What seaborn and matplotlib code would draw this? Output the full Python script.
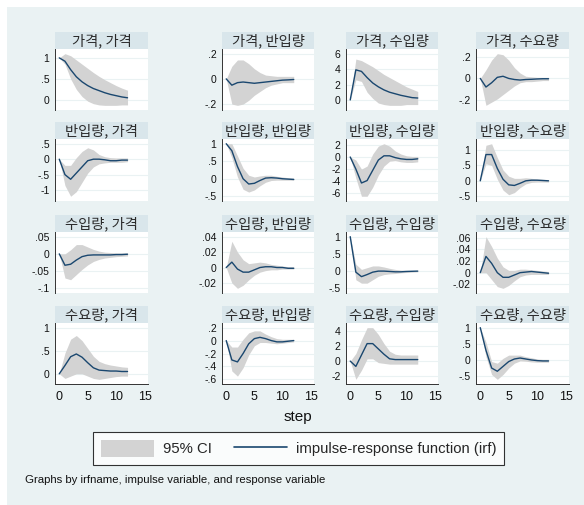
import numpy as np
import pandas as pd
import matplotlib
matplotlib.use("Agg")
import matplotlib.pyplot as plt
from matplotlib.patches import Rectangle, Patch
from matplotlib.lines import Line2D
import matplotlib.ticker as mticker
import seaborn as sns

sns.set_theme(style="white")
plt.rcParams['font.family'] = ['Liberation Sans', 'DejaVu Sans']

# ---------------- data ----------------
variables = ["가격", "반입량", "수입량", "수요량"]
steps = list(range(13))

# (impulse, response) -> irf, lower, upper
irf_11 = [1, 0.92, 0.72, 0.55, 0.43, 0.34, 0.27, 0.22, 0.17, 0.13, 0.10, 0.07, 0.05]
lo_11 = [1, 0.85, 0.5, 0.25, 0.08, -0.03, -0.09, -0.12, -0.13, -0.13, -0.13, -0.12, -0.12]
hi_11 = [1, 1.1, 1.05, 0.95, 0.85, 0.75, 0.65, 0.56, 0.48, 0.41, 0.34, 0.28, 0.23]

irf_12 = [0, -0.05, -0.03, -0.025, -0.03, -0.035, -0.03, -0.025, -0.02, -0.015, -0.01, -0.008, -0.005]
lo_12 = [0, -0.2, -0.21, -0.2, -0.17, -0.13, -0.1, -0.07, -0.05, -0.04, -0.03, -0.03, -0.03]
hi_12 = [0, 0.1, 0.15, 0.15, 0.12, 0.08, 0.05, 0.03, 0.025, 0.02, 0.02, 0.02, 0.02]

irf_13 = [0, 3.9, 3.7, 2.9, 2.2, 1.7, 1.3, 1.0, 0.8, 0.6, 0.45, 0.3, 0.25]
lo_13 = [0, 2.6, 2.4, 1.0, 0.2, -0.4, -0.6, -0.7, -0.7, -0.7, -0.6, -0.6, -0.6]
hi_13 = [0, 5.3, 5.1, 4.7, 4.3, 3.8, 3.3, 2.9, 2.5, 2.1, 1.7, 1.4, 1.1]

irf_14 = [0, -0.08, -0.04, 0.01, 0.02, 0.0, -0.01, -0.015, -0.01, -0.008, -0.005, -0.003, -0.003]
lo_14 = [0, -0.25, -0.22, -0.19, -0.15, -0.11, -0.07, -0.04, -0.03, -0.03, -0.025, -0.02, -0.02]
hi_14 = [0, 0.08, 0.17, 0.23, 0.22, 0.17, 0.1, 0.05, 0.02, 0.015, 0.01, 0.01, 0.01]

irf_21 = [0, -0.5, -0.65, -0.45, -0.25, -0.05, 0.0, 0.0, -0.02, -0.05, -0.05, -0.03, -0.03]
lo_21 = [0, -0.85, -1.2, -1.05, -0.75, -0.45, -0.25, -0.15, -0.12, -0.1, -0.1, -0.1, -0.08]
hi_21 = [0, -0.2, -0.2, 0.05, 0.25, 0.37, 0.3, 0.15, 0.08, 0.05, 0.04, 0.04, 0.04]

irf_22 = [1, 0.8, 0.35, 0.0, -0.15, -0.13, -0.05, 0.02, 0.03, 0.02, 0.0, -0.01, -0.02]
lo_22 = [1, 0.6, 0.05, -0.3, -0.38, -0.32, -0.2, -0.1, -0.05, -0.04, -0.04, -0.04, -0.04]
hi_22 = [1, 1.0, 0.65, 0.3, 0.1, 0.05, 0.08, 0.1, 0.1, 0.07, 0.05, 0.03, 0.02]

irf_23 = [0, -2.0, -4.3, -3.9, -2.2, -0.5, 0.2, 0.2, -0.1, -0.3, -0.4, -0.4, -0.3]
lo_23 = [0, -3.5, -6.5, -6.5, -5.0, -3.0, -1.5, -0.7, -0.6, -0.8, -0.9, -0.9, -0.8]
hi_23 = [0, -0.5, -2.0, -1.5, 0.5, 1.8, 2.2, 1.8, 1.0, 0.5, 0.2, 0.1, 0.1]

irf_24 = [0, 0.85, 0.85, 0.4, 0.05, -0.13, -0.15, -0.08, 0.0, 0.02, 0.02, 0.01, 0.0]
lo_24 = [0, 0.55, 0.5, 0.05, -0.3, -0.45, -0.38, -0.22, -0.1, -0.05, -0.04, -0.04, -0.04]
hi_24 = [0, 1.15, 1.2, 0.75, 0.35, 0.15, 0.08, 0.08, 0.1, 0.08, 0.06, 0.05, 0.04]

irf_31 = [0, -0.033, -0.03, -0.018, -0.008, -0.004, -0.003, -0.003, -0.003, -0.003, -0.002, -0.002, -0.001]
lo_31 = [0, -0.07, -0.075, -0.06, -0.045, -0.032, -0.022, -0.016, -0.012, -0.01, -0.008, -0.007, -0.006]
hi_31 = [0, 0.0, 0.012, 0.027, 0.027, 0.02, 0.013, 0.008, 0.005, 0.004, 0.003, 0.003, 0.003]

irf_32 = [0, 0.007, -0.002, -0.006, -0.006, -0.003, 0.0, 0.001, 0.001, 0.0, 0.0, -0.001, -0.001]
lo_32 = [0, -0.02, -0.027, -0.023, -0.016, -0.01, -0.006, -0.004, -0.003, -0.003, -0.002, -0.002, -0.002]
hi_32 = [0, 0.034, 0.02, 0.01, 0.005, 0.006, 0.007, 0.006, 0.004, 0.003, 0.002, 0.001, 0.001]

irf_33 = [1, -0.03, -0.16, -0.1, -0.03, 0.0, 0.0, -0.01, -0.02, -0.02, -0.01, -0.005, 0.0]
lo_33 = [1, -0.25, -0.35, -0.35, -0.25, -0.15, -0.1, -0.08, -0.07, -0.05, -0.04, -0.03, -0.02]
hi_33 = [1, 0.2, 0.05, 0.1, 0.15, 0.15, 0.12, 0.08, 0.05, 0.03, 0.02, 0.02, 0.02]

irf_34 = [0, 0.028, 0.016, 0.0, -0.008, -0.008, -0.004, 0.0, 0.001, 0.002, 0.001, 0.0, -0.001]
lo_34 = [0, 0.0, -0.012, -0.024, -0.027, -0.022, -0.014, -0.007, -0.004, -0.003, -0.003, -0.003, -0.003]
hi_34 = [0, 0.062, 0.045, 0.025, 0.01, 0.004, 0.004, 0.006, 0.006, 0.005, 0.004, 0.003, 0.002]

irf_41 = [0, 0.18, 0.37, 0.43, 0.36, 0.24, 0.13, 0.08, 0.07, 0.06, 0.06, 0.05, 0.05]
lo_41 = [0, -0.1, -0.05, 0.0, 0.0, -0.05, -0.1, -0.12, -0.1, -0.08, -0.06, -0.05, -0.05]
hi_41 = [0, 0.45, 0.75, 0.83, 0.72, 0.55, 0.38, 0.27, 0.22, 0.19, 0.17, 0.15, 0.14]

irf_42 = [0, -0.3, -0.33, -0.2, -0.05, 0.03, 0.05, 0.03, 0.0, -0.02, -0.02, -0.01, 0.0]
lo_42 = [0, -0.47, -0.55, -0.42, -0.22, -0.08, -0.03, -0.03, -0.04, -0.05, -0.04, -0.03, -0.02]
hi_42 = [0, -0.1, -0.1, 0.02, 0.12, 0.15, 0.15, 0.1, 0.06, 0.03, 0.02, 0.02, 0.02]

irf_43 = [0, -0.7, 0.8, 2.3, 2.3, 1.6, 0.9, 0.3, 0.2, 0.2, 0.2, 0.2, 0.2]
lo_43 = [0, -2.4, -1.2, 0.3, 0.3, -0.2, -0.3, -0.4, -0.4, -0.4, -0.4, -0.4, -0.4]
hi_43 = [0, 1.0, 2.8, 4.4, 4.4, 3.5, 2.3, 1.3, 0.9, 0.8, 0.8, 0.8, 0.8]

irf_44 = [1, 0.3, -0.25, -0.35, -0.2, -0.05, 0.03, 0.06, 0.03, 0.0, -0.02, -0.03, -0.03]
lo_44 = [1, 0.1, -0.45, -0.6, -0.45, -0.25, -0.1, -0.03, -0.04, -0.06, -0.07, -0.07, -0.07]
hi_44 = [1, 0.55, -0.05, -0.1, 0.05, 0.15, 0.15, 0.15, 0.1, 0.07, 0.03, 0.02, 0.02]

yticks = {
    (0, 0): [0, .5, 1], (0, 1): [-.2, 0, .2], (0, 2): [0, 2, 4, 6], (0, 3): [-.2, 0, .2],
    (1, 0): [-1, -.5, 0, .5], (1, 1): [-.5, 0, .5, 1], (1, 2): [-6, -4, -2, 0, 2], (1, 3): [-.5, 0, .5, 1],
    (2, 0): [-.1, -.05, 0, .05], (2, 1): [-.02, 0, .02, .04], (2, 2): [-.5, 0, .5, 1], (2, 3): [-.02, 0, .02, .04, .06],
    (3, 0): [0, .5, 1], (3, 1): [-.6, -.4, -.2, 0, .2], (3, 2): [-2, 0, 2, 4], (3, 3): [-.5, 0, .5, 1],
}
xticks = [0, 5, 10, 15]

series = {
    (0, 0): (irf_11, lo_11, hi_11), (0, 1): (irf_12, lo_12, hi_12), (0, 2): (irf_13, lo_13, hi_13), (0, 3): (irf_14, lo_14, hi_14),
    (1, 0): (irf_21, lo_21, hi_21), (1, 1): (irf_22, lo_22, hi_22), (1, 2): (irf_23, lo_23, hi_23), (1, 3): (irf_24, lo_24, hi_24),
    (2, 0): (irf_31, lo_31, hi_31), (2, 1): (irf_32, lo_32, hi_32), (2, 2): (irf_33, lo_33, hi_33), (2, 3): (irf_34, lo_34, hi_34),
    (3, 0): (irf_41, lo_41, hi_41), (3, 1): (irf_42, lo_42, hi_42), (3, 2): (irf_43, lo_43, hi_43), (3, 3): (irf_44, lo_44, hi_44),
}

rows = []
for (i, j), (irf, lo, hi) in series.items():
    for s, a, b, c in zip(steps, irf, lo, hi):
        rows.append(dict(row=i, col=j, impulse=variables[i], response=variables[j],
                         step=s, irf=a, lower=b, upper=c))
df = pd.DataFrame(rows)

# ---------------- style ----------------
BG = "#EAF2F3"
STRIP = "#D9E6EB"
CI = "#D3D3D3"
LINE = "#1A476F"
GRID = "#EAF2F3"

W, H = 584, 505
fig = plt.figure(figsize=(W / 100, H / 100), dpi=100)
fig.patch.set_facecolor("white")
fig.patches.append(Rectangle((7 / W, -0.01), 1.01 - 7 / W, 1.01 - 7 / H, transform=fig.transFigure,
                             facecolor=BG, edgecolor="none", zorder=-10))

col_x = [(55, 148), (222, 314), (346, 438), (476, 569)]
row_y = [((32, 49), (49, 110)), ((122, 139), (139, 201)), ((215, 232), (232, 293)), ((306, 323), (323, 384))]


def fig_rect(x0, x1, y0, y1):
    return [x0 / W, 1 - y1 / H, (x1 - x0) / W, (y1 - y0) / H]


def stata_fmt(v, pos=None):
    if abs(v) < 1e-12:
        return "0"
    s = ("%g" % v)
    if s.startswith("0."):
        s = s[1:]
    elif s.startswith("-0."):
        s = "-" + s[2:]
    return s


for i in range(4):
    for j in range(4):
        (sy0, sy1), (py0, py1) = row_y[i]
        x0, x1 = col_x[j]
        # strip
        sax = fig.add_axes(fig_rect(x0, x1, sy0, sy1))
        sax.set_facecolor(STRIP)
        sax.set_xticks([]); sax.set_yticks([])
        for sp in sax.spines.values():
            sp.set_visible(False)
        sax.text(0.5, 0.45, f"{variables[i]}, {variables[j]}", ha="center", va="center",
                 fontsize=10.3, color="#2a2a2a", family=["Noto Sans CJK KR", "DejaVu Sans"],
                 transform=sax.transAxes)
        # plot
        ax = fig.add_axes(fig_rect(x0, x1, py0, py1))
        ax.set_facecolor("white")
        sub = df[(df.row == i) & (df.col == j)]
        ax.fill_between(sub["step"], sub["lower"], sub["upper"], color=CI, linewidth=0, zorder=2)
        sns.lineplot(data=sub, x="step", y="irf", ax=ax, color=LINE, linewidth=1.0, zorder=3)
        yt = yticks[(i, j)]
        lo = min(sub["lower"].min(), yt[0])
        hi = max(sub["upper"].max(), yt[-1])
        pad = 0.09 * (hi - lo)
        ax.set_ylim(lo - pad, hi + pad)
        ax.set_xlim(-0.75, 15.6)
        ax.set_yticks(yt)
        ax.yaxis.set_major_formatter(mticker.FuncFormatter(stata_fmt))
        for y in yt:
            ax.axhline(y, color=GRID, linewidth=0.8, zorder=1)
        ax.set_xlabel(""); ax.set_ylabel("")
        for k in ["top", "right"]:
            ax.spines[k].set_visible(False)
        ax.spines["left"].set_color("#333333")
        ax.spines["left"].set_linewidth(0.7)
        ax.tick_params(axis="y", direction="out", length=3, width=0.6, color="#333333",
                       labelsize=7.5, pad=1, labelcolor="#111111")
        if i == 3:
            ax.spines["bottom"].set_color("#333333")
            ax.spines["bottom"].set_linewidth(0.7)
            ax.set_xticks(xticks)
            ax.tick_params(axis="x", direction="out", length=3, width=0.6, color="#333333",
                           labelsize=9, pad=2, labelcolor="#111111")
        else:
            ax.spines["bottom"].set_visible(False)
            ax.set_xticks([])
        ax.grid(False)

fig.text(298 / W, 1 - 417 / H, "step", ha="center", va="center", fontsize=11, color="#111111")

handles = [Patch(facecolor=CI, edgecolor="none"), Line2D([0], [0], color=LINE, linewidth=1.2)]
leg = fig.legend(handles, ["95% CI", "impulse-response function (irf)"], ncol=2,
                 loc="center", bbox_to_anchor=(298.5 / W, 1 - 448.5 / H),
                 fontsize=10.7, frameon=True, fancybox=False, edgecolor="black",
                 handlelength=3.6, handleheight=1.3, handletextpad=0.55, columnspacing=1.5,
                 borderpad=0.55, borderaxespad=0)
leg.get_frame().set_linewidth(0.8)
leg.get_frame().set_facecolor("white")

fig.text(25 / W, 1 - 480 / H, "Graphs by irfname, impulse variable, and response variable",
         ha="left", va="center", fontsize=8.2, color="#111111")

fig.savefig("out.png", dpi=100, facecolor=fig.get_facecolor())
